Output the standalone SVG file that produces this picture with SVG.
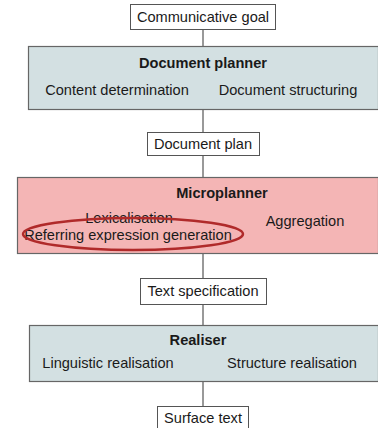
<svg xmlns="http://www.w3.org/2000/svg" width="378" height="428" viewBox="0 0 378 428">
<style>
text{font-family:"Liberation Sans",Arial,sans-serif;font-size:14.6px;fill:#1a1a1a;text-anchor:middle;dominant-baseline:central}
.b{font-weight:bold}
.io{fill:#fff;stroke:#555;stroke-width:1}
.stage{stroke:#666;stroke-width:1.2}
.blue{fill:#d3e0e2}
.pink{fill:#f4b5b5}
.conn line{stroke:#777;stroke-width:1.5}
</style>
<rect width="378" height="428" fill="#fff"/>
<g class="conn">
<line x1="203" y1="29" x2="203" y2="46"/>
<line x1="203" y1="109" x2="203" y2="132"/>
<line x1="203" y1="155" x2="203" y2="177"/>
<line x1="203" y1="254" x2="203" y2="278"/>
<line x1="203" y1="304" x2="203" y2="325"/>
<line x1="203" y1="381" x2="203" y2="406"/>
</g>
<g id="goal"><rect class="io" x="130.5" y="4.5" width="145" height="25"/><text x="203" y="17">Communicative goal</text></g>
<g id="docplanner"><rect class="stage blue" x="28.5" y="46.5" width="350" height="63"/>
<text class="b" x="203" y="63">Document planner</text>
<text x="117" y="90">Content determination</text>
<text x="288" y="90">Document structuring</text></g>
<g id="docplan"><rect class="io" x="147.5" y="132.5" width="112" height="23"/><text x="203" y="144">Document plan</text></g>
<g id="microplanner"><rect class="stage pink" x="17.5" y="177.5" width="361" height="76"/>
<text class="b" x="222" y="193">Microplanner</text>
<text x="129" y="218">Lexicalisation</text>
<text x="305" y="221">Aggregation</text>
<text x="128" y="235">Referring expression generation</text>
<ellipse cx="133" cy="234" rx="110" ry="16" fill="none" stroke="#b02a2a" stroke-width="2.5"/></g>
<g id="textspec"><rect class="io" x="140.5" y="278.5" width="126" height="26"/><text x="203" y="291">Text specification</text></g>
<g id="realiser"><rect class="stage blue" x="29.5" y="325.5" width="349" height="56"/>
<text class="b" x="198" y="340">Realiser</text>
<text x="108" y="363">Linguistic realisation</text>
<text x="292" y="363">Structure realisation</text></g>
<g id="surface"><rect class="io" x="157.5" y="406.5" width="91" height="30"/><text x="203" y="418">Surface text</text></g>
</svg>
